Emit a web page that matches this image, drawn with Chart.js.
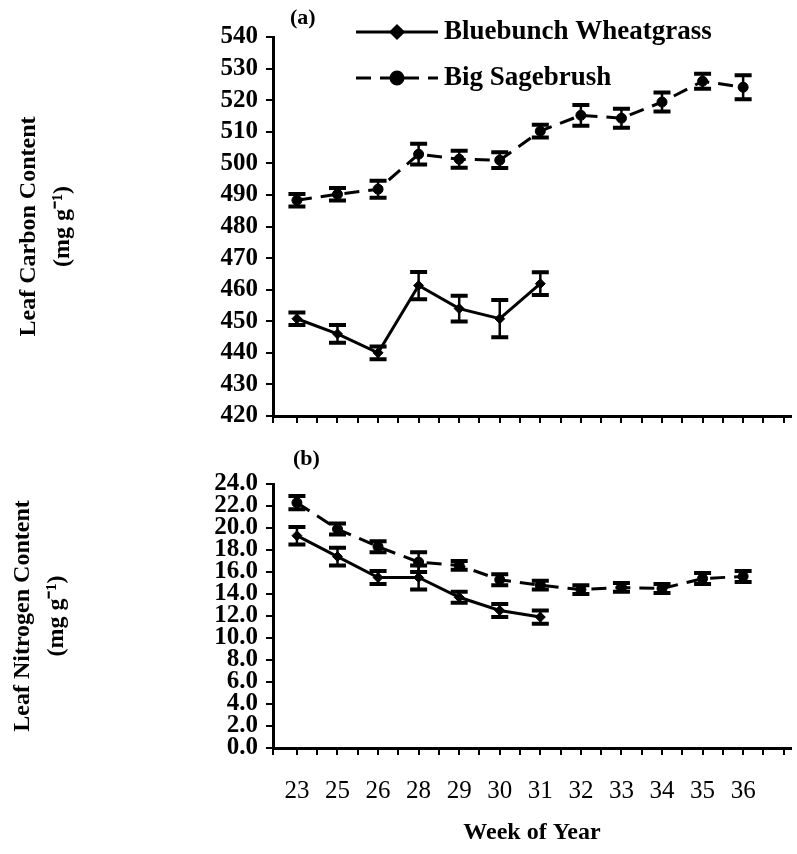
<!DOCTYPE html>
<html>
<head>
<meta charset="utf-8">
<script src="https://cdn.jsdelivr.net/npm/chart.js@4/dist/chart.umd.min.js"></script>
<style>
  html, body { margin: 0; padding: 0; background: #fff; overflow: hidden; }
  #wrap { position: relative; width: 797px; height: 854px; }
  .panel { position: absolute; left: 0; width: 797px; }
  #top { top: 0; height: 440px; }
  #bot { top: 440px; height: 414px; }
</style>
</head>
<body>
<div id="wrap">
  <div class="panel" id="top"><canvas id="carbonChart"></canvas></div>
  <div class="panel" id="bot"><canvas id="nitrogenChart"></canvas></div>
</div>
<script>
// Sampling weeks (categories along the x axis)
const weeks = ['23', '25', '26', '28', '29', '30', '31', '32', '33', '34', '35', '36'];

// (a) Leaf carbon content, mg g-1 (mean and standard error)
const carbonSage      = [488.3, 490.2, 491.8, 502.9, 501.3, 501.0, 510.2, 515.2, 514.3, 519.4, 526.0, 524.1];
const carbonSageErr   = [2.0, 2.0, 2.7, 3.3, 2.7, 2.5, 2.0, 3.3, 3.0, 3.0, 2.4, 3.8];
const carbonGrass     = [450.8, 446.0, 440.0, 461.3, 454.0, 450.8, 461.9];
const carbonGrassErr  = [2.0, 2.8, 2.0, 4.3, 4.1, 5.9, 3.6];

// (b) Leaf nitrogen content, mg g-1 (mean and standard error)
const nitrogenSage     = [22.3, 19.9, 18.3, 16.9, 16.6, 15.3, 14.8, 14.4, 14.6, 14.5, 15.4, 15.6];
const nitrogenSageErr  = [0.6, 0.5, 0.5, 0.9, 0.4, 0.5, 0.4, 0.4, 0.4, 0.4, 0.5, 0.5];
const nitrogenGrass    = [19.3, 17.4, 15.5, 15.5, 13.7, 12.5, 11.9];
const nitrogenGrassErr = [0.8, 0.8, 0.6, 1.1, 0.5, 0.6, 0.6];

// Y tick ranges: [min, max, step]
const carbonTicks   = [420, 540, 10];
const nitrogenTicks = [0, 24, 2];

const SERIF = "'Liberation Serif', 'Times New Roman', serif";
Chart.defaults.font.family = SERIF;
Chart.defaults.color = '#000';

const toPoints = arr => arr.map((v, i) => ({ x: i, y: v }));

function series(label, values, errors, dashed) {
  return {
    label,
    data: toPoints(values),
    errors,
    borderColor: '#000',
    backgroundColor: '#000',
    borderWidth: 3,
    borderDash: dashed ? [15, 9] : [],
    pointStyle: dashed ? 'circle' : 'rectRot',
    pointRadius: 5,
    pointBorderWidth: 1,
    pointBackgroundColor: '#000',
    pointBorderColor: '#000',
    tension: 0,
    fill: false
  };
}

// Vertical error bars with caps, placed through the y scale
const errorBars = {
  id: 'errorBars',
  afterDatasetsDraw(chart, args, opts) {
    const ctx = chart.ctx;
    const ys = chart.scales.y;
    chart.data.datasets.forEach((ds, di) => {
      if (!ds.errors) return;
      const meta = chart.getDatasetMeta(di);
      ctx.save();
      ctx.strokeStyle = '#000';
      ctx.setLineDash([]);
      meta.data.forEach((pt, i) => {
        const v = ds.data[i].y, e = ds.errors[i];
        const y1 = ys.getPixelForValue(v + e);
        const y2 = ys.getPixelForValue(v - e);
        ctx.lineWidth = opts.stem;
        ctx.beginPath(); ctx.moveTo(pt.x, y1); ctx.lineTo(pt.x, y2); ctx.stroke();
        ctx.lineWidth = opts.cap;
        ctx.beginPath();
        ctx.moveTo(pt.x - opts.half, y1); ctx.lineTo(pt.x + opts.half, y1);
        ctx.moveTo(pt.x - opts.half, y2); ctx.lineTo(pt.x + opts.half, y2);
        ctx.stroke();
      });
      ctx.restore();
    });
  }
};

// Panel tag such as "(a)" near the top-left of the plot area
const panelTag = {
  id: 'panelTag',
  afterDraw(chart, args, opts) {
    const { ctx, chartArea } = chart;
    ctx.save();
    ctx.font = 'bold 22px ' + SERIF;
    ctx.fillStyle = '#000';
    ctx.textBaseline = 'middle';
    ctx.fillText(opts.text, chartArea.left + opts.dx, chartArea.top + opts.dy);
    ctx.restore();
  }
};

// Series key: line sample with marker, followed by the series name
const seriesKey = {
  id: 'seriesKey',
  afterDraw(chart, args, opts) {
    if (!opts.show) return;
    const ctx = chart.ctx;
    chart.data.datasets.forEach((ds, i) => {
      const y = opts.y0 + i * opts.dy;
      ctx.save();
      ctx.strokeStyle = ds.borderColor;
      ctx.lineWidth = ds.borderWidth;
      ctx.setLineDash(ds.borderDash || []);
      ctx.beginPath(); ctx.moveTo(opts.x0, y); ctx.lineTo(opts.x1, y); ctx.stroke();
      ctx.setLineDash([]);
      ctx.fillStyle = '#000';
      Chart.helpers.drawPoint(ctx, { pointStyle: ds.pointStyle, radius: ds.pointRadius + 1, borderWidth: 1, rotation: 0 },
        (opts.x0 + opts.x1) / 2, y);
      ctx.font = 'bold ' + opts.size + 'px ' + SERIF;
      ctx.textBaseline = 'middle';
      ctx.fillText(ds.label, opts.x1 + opts.gap, y);
      ctx.restore();
    });
  }
};

function xAxis(showLabels, height) {
  return {
    type: 'linear',
    min: -0.59,
    max: 12.18,
    afterBuildTicks(s) {
      const t = [{ value: s.min }];
      for (let k = 0; k * 0.5 <= s.max + 1e-6; k++) t.push({ value: k * 0.5 });
      s.ticks = t;
    },
    afterFit(s) {
      s.height = height;
      s.paddingLeft = 0;
      s.paddingRight = 0;
    },
    ticks: {
      display: showLabels,
      autoSkip: false,
      maxRotation: 0,
      padding: 21,
      font: { size: 25 },
      callback(v) { return Number.isInteger(v) && weeks[v] !== undefined ? weeks[v] : ''; }
    },
    grid: { drawOnChartArea: false, drawTicks: true, tickLength: 7, color: '#000', lineWidth: 2 },
    border: { color: '#000', width: 3 },
    title: {
      display: showLabels,
      text: 'Week of Year',
      font: { size: 24, weight: 'bold' },
      padding: { top: 0, bottom: 7 }
    }
  };
}

function yAxis(range, titleLines, fontSize, titlePad, decimals) {
  return {
    min: range[0],
    max: range[1],
    afterFit(s) { s.width = 273; },
    ticks: {
      stepSize: range[2],
      autoSkip: false,
      padding: 8,
      font: { size: fontSize, weight: 'bold' },
      callback(v) { return v.toFixed(decimals); }
    },
    grid: { drawOnChartArea: false, drawTicks: true, tickLength: 7, color: '#000', lineWidth: 2 },
    border: { color: '#000', width: 3 },
    title: {
      display: true,
      text: titleLines,
      font: { size: 24, weight: 'bold', lineHeight: 1.4 },
      padding: { top: titlePad, bottom: 0 }
    }
  };
}

function baseOptions(pad, x, y, tag, key) {
  return {
    responsive: true,
    maintainAspectRatio: false,
    devicePixelRatio: 1,
    animation: false,
    layout: { padding: { top: pad, right: 0, bottom: 0, left: 0 } },
    plugins: {
      legend: { display: false },
      tooltip: { enabled: false },
      errorBars: { stem: 2.5, cap: 4, half: 8.5 },
      panelTag: tag,
      seriesKey: key
    },
    scales: { x, y }
  };
}

new Chart(document.getElementById('carbonChart'), {
  type: 'line',
  data: {
    datasets: [
      series('Bluebunch Wheatgrass', carbonGrass, carbonGrassErr, false),
      series('Big Sagebrush', carbonSage, carbonSageErr, true)
    ]
  },
  options: baseOptions(37,
    xAxis(false, 24),
    yAxis(carbonTicks, ['Leaf Carbon Content', '(mg g\u207B\u00B9)'], 25, 12, 0),
    { text: '(a)', dx: 17, dy: -19 },
    { show: true, x0: 356, x1: 438, y0: 32, dy: 46, gap: 6, size: 27 }),
  plugins: [errorBars, panelTag, seriesKey]
});

new Chart(document.getElementById('nitrogenChart'), {
  type: 'line',
  data: {
    datasets: [
      series('Bluebunch Wheatgrass', nitrogenGrass, nitrogenGrassErr, false),
      series('Big Sagebrush', nitrogenSage, nitrogenSageErr, true)
    ]
  },
  options: baseOptions(44,
    xAxis(true, 106),
    yAxis(nitrogenTicks, ['Leaf Nitrogen Content', '(mg g\u207B\u00B9)'], 25, 6, 1),
    { text: '(b)', dx: 20, dy: -25 },
    { show: false }),
  plugins: [errorBars, panelTag, seriesKey]
});
</script>
</body>
</html>
